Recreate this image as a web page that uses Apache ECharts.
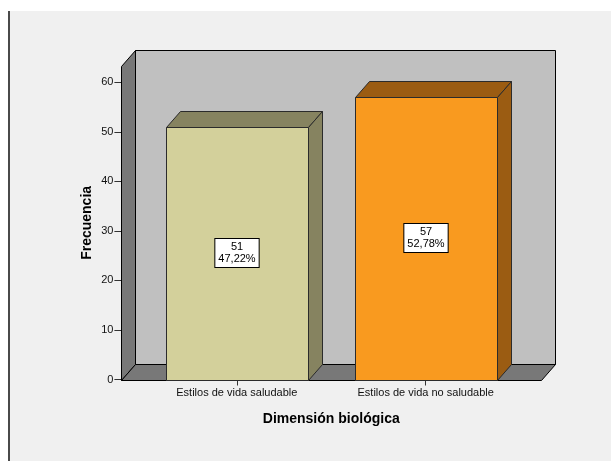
<!DOCTYPE html>
<html>
<head>
<meta charset="utf-8">
<title>Dimensión biológica</title>
<script src="https://cdn.jsdelivr.net/npm/echarts@6/dist/echarts.min.js"></script>
<style>
  html, body { margin: 0; padding: 0; background: #ffffff; }
  #page { position: relative; width: 611px; height: 461px; overflow: hidden; background: #ffffff; }
  #panel { position: absolute; left: 8px; top: 11px; right: 0; bottom: 0; background: #f0f0f0; border-left: 2px solid #4a4a4a; }
  #chart { position: absolute; left: 0; top: 0; width: 611px; height: 461px; }
</style>
</head>
<body>
<div id="page">
  <div id="panel"></div>
  <div id="chart"></div>
</div>
<script>
// Frequency table of the "Dimensión biológica" variable
const categories = ['Estilos de vida saludable', 'Estilos de vida no saludable'];
const frequencies = [51, 57];
const percentLabels = ['47,22%', '52,78%'];
const yTickStep = 10;
const yMax = 60;

// 3D look: depth offset (px), height of the walls (axis units), bar width ratio
const DX = 13.5, DY = -16;
const WALL_TOP = 63.3;
const SIDE_PAD_L = 21, SIDE_PAD_R = 20.5;
const BAR_RATIO = 0.752;
const EDGE = '#2b2b2b';
const FONT = '"Liberation Sans", Arial, sans-serif';

const barColors = [
  { face: '#d3d09b', shade: '#868360' },
  { face: '#f99a1f', shade: '#9b5c12' }
];

// snap to the pixel grid so 1px outlines stay crisp
const px = v => Math.round(v) + 0.5;

const chart = echarts.init(document.getElementById('chart'), null, { renderer: 'canvas' });

function renderWalls(params, api) {
  const cs = params.coordSys;
  const left = px(cs.x - SIDE_PAD_L);
  const right = px(cs.x + cs.width + SIDE_PAD_R);
  const bottom = px(api.coord([0, 0])[1]);
  const top = px(api.coord([0, WALL_TOP])[1]);
  const dx = Math.round(DX), dy = DY;
  return {
    type: 'group',
    silent: true,
    children: [
      { type: 'rect', shape: { x: left + dx, y: top + dy, width: right - left, height: bottom - top },
        style: { fill: '#c0c0c0', stroke: '#000', lineWidth: 1 } },
      { type: 'polygon', shape: { points: [[left, bottom], [left, top], [left + dx, top + dy], [left + dx, bottom + dy]] },
        style: { fill: '#787878', stroke: '#000', lineWidth: 1 } },
      { type: 'polygon', shape: { points: [[left, bottom], [left + dx, bottom + dy], [right + dx, bottom + dy], [right, bottom]] },
        style: { fill: '#787878', stroke: '#000', lineWidth: 1 } }
    ]
  };
}

function renderBar(params, api) {
  const idx = api.value(0);
  const val = api.value(1);
  const base = api.coord([idx, 0]);
  const topPt = api.coord([idx, val]);
  const w = api.size([1, 0])[0] * BAR_RATIO;
  const x0 = px(base[0] - w / 2), x1 = px(base[0] + w / 2);
  const yt = px(topPt[1]), yb = px(base[1]);
  const dx = Math.round(DX), dy = DY;
  const c = barColors[idx];
  return {
    type: 'group',
    children: [
      { type: 'polygon', shape: { points: [[x0, yt], [x0 + dx, yt + dy], [x1 + dx, yt + dy], [x1, yt]] },
        style: { fill: c.shade, stroke: EDGE, lineWidth: 1 } },
      { type: 'polygon', shape: { points: [[x1, yt], [x1 + dx, yt + dy], [x1 + dx, yb + dy], [x1, yb]] },
        style: { fill: c.shade, stroke: EDGE, lineWidth: 1 } },
      { type: 'rect', shape: { x: x0, y: yt, width: x1 - x0, height: yb - yt },
        style: { fill: c.face, stroke: EDGE, lineWidth: 1 } },
      { type: 'text',
        style: {
          text: val + '\n' + percentLabels[idx],
          x: Math.round(base[0]), y: Math.round((topPt[1] + base[1]) / 2),
          align: 'center', verticalAlign: 'middle',
          font: '11px ' + FONT, lineHeight: 12, fill: '#000',
          backgroundColor: '#ffffff', borderColor: '#000', borderWidth: 1,
          padding: [2, 3, 2, 3]
        } }
    ]
  };
}

chart.setOption({
  backgroundColor: 'transparent',
  animation: false,
  grid: { left: 142.4, right: 90.9, top: 82.3, bottom: 81.5 },
  xAxis: {
    type: 'category',
    data: categories,
    boundaryGap: true,
    axisLine: { show: false },
    axisTick: { show: true, alignWithLabel: true, length: 6, lineStyle: { color: '#333', width: 1 } },
    axisLabel: { margin: 8, fontSize: 11, fontFamily: FONT, color: '#111' },
    splitLine: { show: false },
    name: 'Dimensión biológica',
    nameLocation: 'middle',
    nameGap: 33,
    nameMoveOverlap: false,
    nameTextStyle: { fontSize: 14, fontWeight: 'bold', fontFamily: FONT, color: '#000' }
  },
  yAxis: {
    type: 'value',
    min: 0,
    max: yMax,
    interval: yTickStep,
    offset: 21,
    axisLine: { show: false },
    axisTick: { show: true, length: 7, lineStyle: { color: '#333', width: 1 } },
    axisLabel: { margin: 8, fontSize: 11, fontFamily: FONT, color: '#111' },
    splitLine: { show: false },
    name: 'Frecuencia',
    nameLocation: 'middle',
    nameGap: 27,
    nameMoveOverlap: false,
    nameTextStyle: { fontSize: 14, fontWeight: 'bold', fontFamily: FONT, color: '#000', padding: [0, 0, 0, 16] }
  },
  series: [
    {
      type: 'custom',
      name: 'walls',
      z: 1,
      silent: true,
      clip: false,
      renderItem: renderWalls,
      data: [[0, 0]]
    },
    {
      type: 'custom',
      name: 'Frecuencia',
      z: 2,
      clip: false,
      renderItem: renderBar,
      data: frequencies.map((v, i) => [i, v])
    }
  ]
});
</script>
</body>
</html>
